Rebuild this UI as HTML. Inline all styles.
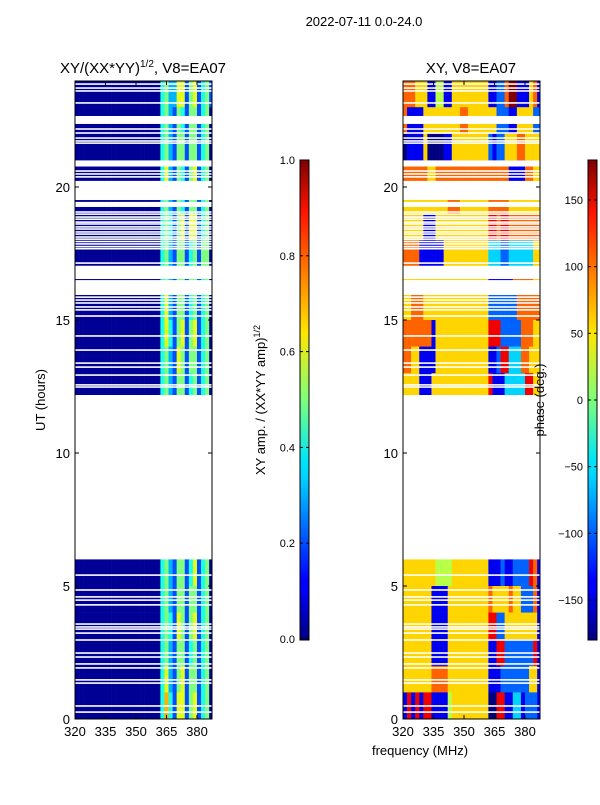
<!DOCTYPE html>
<html><head><meta charset="utf-8"><style>
body{margin:0;background:#fff;width:600px;height:800px;overflow:hidden}
svg text{font-family:"Liberation Sans",sans-serif;fill:#000}
</style></head><body>
<svg id="s" width="600" height="800" xmlns="http://www.w3.org/2000/svg">
<defs>
<linearGradient id="jet" x1="0" y1="1" x2="0" y2="0">
<stop offset="0" stop-color="#00007f"/><stop offset="0.11" stop-color="#0000ff"/><stop offset="0.125" stop-color="#0000ff"/>
<stop offset="0.34" stop-color="#00d4ff"/><stop offset="0.375" stop-color="#00e5f7"/><stop offset="0.5" stop-color="#7dff7a"/>
<stop offset="0.64" stop-color="#ffe600"/><stop offset="0.66" stop-color="#ffd500"/><stop offset="0.89" stop-color="#ff1400"/><stop offset="1" stop-color="#7f0000"/>
</linearGradient>
</defs>
<text x="364" y="26" font-size="13" text-anchor="middle">2022-07-11 0.0-24.0</text>
<text x="143" y="73" font-size="15" text-anchor="middle">XY/(XX*YY)<tspan font-size="10" dy="-6">1/2</tspan><tspan dy="6">, V8=EA07</tspan></text>
<text x="471" y="73" font-size="15" text-anchor="middle">XY, V8=EA07</text>
<text transform="translate(45,400) rotate(-90)" font-size="13" text-anchor="middle">UT (hours)</text>
<text x="420" y="755" font-size="13" text-anchor="middle">frequency (MHz)</text>
<text transform="translate(265,400) rotate(-90)" font-size="13" text-anchor="middle">XY amp. / (XX*YY amp)<tspan font-size="9" dy="-5">1/2</tspan></text>
<g id="p1"></g><g id="p2"></g><g id="ov"></g>
<text transform="translate(544,400) rotate(-90)" font-size="13" text-anchor="middle">phase (deg.)</text>
</svg>
<script>
const freqStart=320, freqStep=2, nCols=34;
const rowHours=[23,22,21,20,19,18,17,16,15,14,13,12,5,4,3,2,1,0];
const ampRows=[
"1111111111111111111114533662562452",
"1111111111111111111114532542552451",
"1111111111111111111114532552552451",
"1111111111111111111114632542562451",
"1111111111111111111114532542552451",
"1111111111111111111114542562662451",
"1111111111111111111114532552452551",
"1111111111111111111114532552552451",
"1111111111111111111114632552452451",
"1111111111111111111114642562562451",
"1111111111111111111114532652552451",
"1111111111111111111114532552452451",
"1111111111111111111114532552462451",
"1111111111111111111114532552552451",
"1111111111111111111114542652562451",
"1111111111111111111114532552452451",
"1111111111111111111114632562552451",
"1111111111111111111114742662562451"];
const phaseRows=[
"7776661155116666666661122799111671",
"7111166666666677666666622211666622",
"0111160000116666666662122666776666",
"7777776677777777777777777711117766",
"6666666666677766666667777766666666",
"6666611166666666666668878877777777",
"7777111111666666666663332233333366",
"6666666666666666666661111117777766",
"6677766666666666666662222222777777",
"7777777166666666666668882222277766",
"7766111166666666666661128833377666",
"6666111666666666666668111333338866",
"6666666655556666666661112112222871",
"6666666111166666666667666676622271",
"6666666111166666666668822666666661",
"6666666111166666666661188222222281",
"6666666777766666666661112222222661",
"1818188111156666666660088113312221"];
const bigGaps=[[6.02,12.18],[22.37,22.67],[20.77,21.0],[19.51,20.23],[19.25,19.44],[16.54,17.04],[15.94,16.5]];
const thinGaps=[23.87,23.72,23.61,23.16,22.18,22.03,21.84,21.73,21.65,20.6,20.49,20.38,19.06,18.98,18.87,18.79,18.68,18.61,18.5,18.42,18.31,18.23,18.12,18.04,17.95,17.86,17.76,17.68,17.14,15.86,15.75,15.64,15.49,15.38,15.15,14.4,13.87,13.38,13.23,12.93,12.56,12.48,5.41,4.85,4.59,4.47,4.29,3.57,3.46,3.38,3.23,2.97,2.48,2.33,2.07,1.92,1.47,1.35,0.49,0.26];
const xTicks=[320,335,350,365,380];
const yTicks=[0,5,10,15,20];
const ampTicks=[0.0,0.2,0.4,0.6,0.8,1.0];
const phaseTicks=[150,100,50,0,-50,-100,-150];

const NS="http://www.w3.org/2000/svg";
const T0=719,TP=26.6;
const yScale=t=>T0-t*TP;
const mk=(p,tag,a)=>{const e=document.createElementNS(NS,tag);for(const k in a)e.setAttribute(k,a[k]);p.appendChild(e);return e;};
function jet(x){x=Math.max(0,Math.min(1,x));const c=v=>Math.round(255*Math.max(0,Math.min(1,v)));
return `rgb(${c(1.5-Math.abs(4*x-3))},${c(1.5-Math.abs(4*x-2))},${c(1.5-Math.abs(4*x-1))})`;}
function panel(g,left,rows,mapv,name){
 const xs=f=>left+(f-320)*2.033;
 rowHours.forEach((h,ri)=>{
  const t0=h===12?12.18:h, t1=Math.min(h+1,24);
  for(let j=0;j<nCols;j++){
   const f=freqStart+j*freqStep, v=mapv(rows[ri].charCodeAt(j)-48);
   const x0=xs(f),x1=Math.min(xs(f+freqStep),left+137);
   if(x1<=x0)continue;
   const r=mk(g,'rect',{x:x0,y:yScale(t1),width:x1-x0+0.3,height:yScale(t0)-yScale(t1)+0.3,fill:jet(v)});
   
   
  }
 });
 bigGaps.forEach(gp=>{const r=mk(g,'rect',{x:left,y:yScale(gp[1]),width:137,height:yScale(gp[0])-yScale(gp[1]),fill:'#fff'});
  });
 thinGaps.forEach(t=>{const r=mk(g,'rect',{x:left,y:yScale(t)-0.8,width:137,height:1.6,fill:'#fff'});
  });
 const fr=mk(g,'rect',{x:left,y:81,width:137,height:638,fill:'none',stroke:'#000','stroke-width':1});
 
 xTicks.forEach(f=>{const x=xs(f);mk(g,'line',{x1:x,x2:x,y1:719,y2:715,stroke:'#000'});mk(g,'line',{x1:x,x2:x,y1:81,y2:85,stroke:'#000'});
  const tx=mk(g,'text',{x:x,y:736,'font-size':13,'text-anchor':'middle'});tx.textContent=f;
  });
 yTicks.forEach(t=>{const y=yScale(t);mk(g,'line',{x1:left,x2:left+4,y1:y,y2:y,stroke:'#000'});mk(g,'line',{x1:left+137,x2:left+133,y1:y,y2:y,stroke:'#000'});
  const tx=mk(g,'text',{x:left-5,y:y+5,'font-size':13,'text-anchor':'end'});tx.textContent=t;
  });
}
panel(document.getElementById('p1'),75,ampRows,d=>d<=1?0.02:d/10,'amp');
panel(document.getElementById('p2'),403,phaseRows,d=>d/9,'phase');
const ov=document.getElementById('ov');
function cbar(x,name,ticks,scale,fmt){
 const r=mk(ov,'rect',{x:x,y:160,width:9,height:480,fill:'url(#jet)',stroke:'#000','stroke-width':1});
 
 ticks.forEach(v=>{const y=scale(v);mk(ov,'line',{x1:x+9,x2:x+6,y1:y,y2:y,stroke:'#000'});mk(ov,'line',{x1:x,x2:x+3,y1:y,y2:y,stroke:'#000'});
  const tx=mk(ov,'text',{x:x-5,y:y+4,'font-size':11,'text-anchor':'end'});tx.textContent=fmt(v);
  });
}
cbar(300,'amp-colorbar',ampTicks,v=>639-v*479,v=>v.toFixed(1));
cbar(588,'phase-colorbar',phaseTicks,v=>640-(v+180)/360*480,v=>v<0?'\u2212'+(-v):''+v);
</script>
</body></html>
